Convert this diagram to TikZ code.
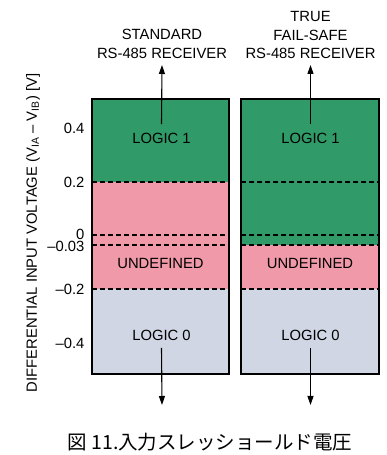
\documentclass[tikz,border=0pt]{standalone}
\usepackage{fontspec}
\setmainfont{Liberation Sans}
\newfontfamily\cjk{Noto Sans CJK JP}
\usetikzlibrary{arrows.meta}

\definecolor{logicgreen}{RGB}{48,155,104}
\definecolor{undefpink}{RGB}{240,153,168}
\definecolor{logicgray}{RGB}{208,214,228}

\begin{document}
\begin{tikzpicture}[x=1pt, y=1pt, >={Triangle[length=9pt,width=6pt]}, line width=1.1pt,
    lbl/.style={font=\fontsize{14.8}{18.5}\selectfont, inner sep=1pt},
    thr/.style={dash pattern=on 5pt off 3pt, line width=1.2pt}]
    \useasboundingbox (0,0) rectangle (387,455);

    % ====================
    % 1. Standard RS-485 receiver
    % ====================
    \begin{scope}[xshift=160.5pt, yshift=220pt]
        \node[lbl, align=center] (stdTitle) at (1.5,191) {STANDARD\\RS-485 RECEIVER};

        \fill[logicgreen] (-68.5,53) rectangle (68.5,136);
        \fill[undefpink] (-68.5,-54) rectangle (68.5,53);
        \fill[logicgray] (-68.5,-139) rectangle (68.5,-54);
        % Thresholds 0.2, 0, -0.03, -0.2
        \foreach \y in {53, 0, -10, -54} {
            \draw[thr] (-68.5,\y) -- (68.5,\y);
        }
        \draw (-68.5,-139) rectangle (68.5,136);

        \node[lbl] (stdHigh) at (1,97) {LOGIC 1};
        \node[lbl] (stdUndef) at (0,-28) {UNDEFINED};
        \node[lbl] (stdLow) at (1,-100) {LOGIC 0};

        \coordinate (stdUp) at (1.5,170);
        \coordinate (stdDown) at (1.5,-170);
        \draw[->] ([yshift=7pt]stdHigh.north) -- (stdUp);
        \draw[->] ([yshift=-6pt]stdLow.south) -- (stdDown);
    \end{scope}

    % ====================
    % 2. True fail-safe RS-485 receiver
    % ====================
    \begin{scope}[xshift=310pt, yshift=220pt]
        \node[lbl, align=center] (tfsTitle) at (0.5,200) {TRUE\\FAIL-SAFE\\RS-485 RECEIVER};

        \fill[logicgreen] (-69,-10) rectangle (69,136);
        \fill[undefpink] (-69,-54) rectangle (69,-10);
        \fill[logicgray] (-69,-139) rectangle (69,-54);
        % Thresholds 0.2, 0, -0.03, -0.2
        \foreach \y in {53, 0, -10, -54} {
            \draw[thr] (-69,\y) -- (69,\y);
        }
        \draw (-69,-139) rectangle (69,136);

        \node[lbl] (tfsHigh) at (0.5,97) {LOGIC 1};
        \node[lbl] (tfsUndef) at (0,-28) {UNDEFINED};
        \node[lbl] (tfsLow) at (0.5,-100) {LOGIC 0};

        \coordinate (tfsUp) at (0.5,170);
        \coordinate (tfsDown) at (0.5,-170);
        \draw[->] ([yshift=7pt]tfsHigh.north) -- (tfsUp);
        \draw[->] ([yshift=-6pt]tfsLow.south) -- (tfsDown);
    \end{scope}

    % ====================
    % 3. Voltage axis
    % ====================
    \foreach \v/\y in {0.4/327, 0.2/273, 0/221, --0.03/209, --0.2/166, --0.4/112} {
        \node[lbl, anchor=east] at (86,\y) {\v};
    }
    \node[lbl, rotate=90] (axisLabel) at (33,222)
        {DIFFERENTIAL INPUT VOLTAGE (V\textsubscript{IA} -- V\textsubscript{IB}) [V]};

    \node[font=\cjk\fontsize{19.5}{22}\selectfont] (caption) at (210,13) {図 11.入力スレッショールド電圧};

\end{tikzpicture}
\end{document}
